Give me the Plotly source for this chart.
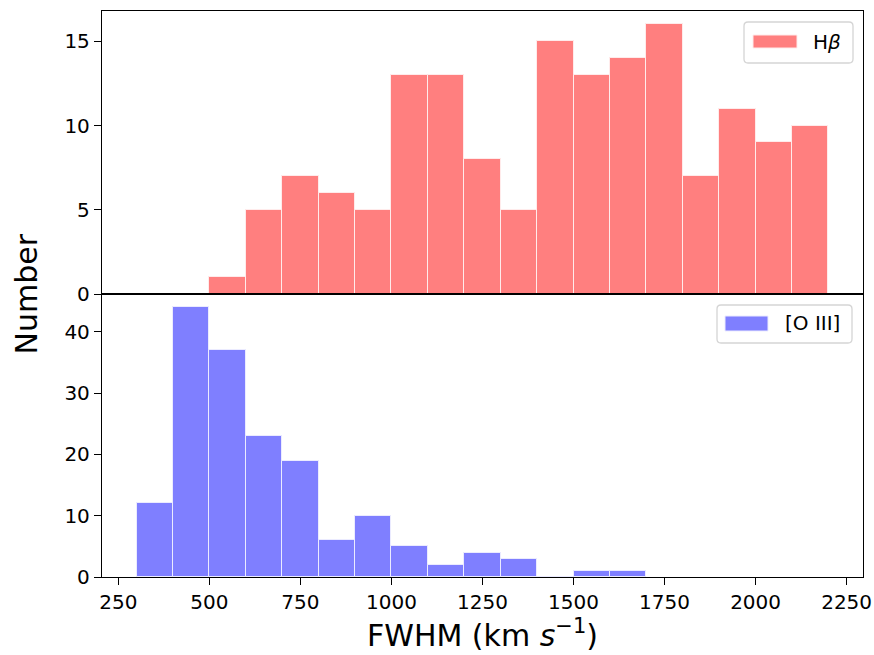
import plotly.graph_objects as go
from plotly.subplots import make_subplots

# Hβ histogram: bin left edges (km/s) and counts
hb_bin_left = [500, 600, 700, 800, 900, 1000, 1100, 1200, 1300, 1400, 1500, 1600, 1700, 1800, 1900, 2000, 2100]
hb_counts = [1, 5, 7, 6, 5, 13, 13, 8, 5, 15, 13, 14, 16, 7, 11, 9, 10]

# [O III] histogram
o3_bin_left = [300, 400, 500, 600, 700, 800, 900, 1000, 1100, 1200, 1300, 1400, 1500, 1600]
o3_counts = [12, 44, 37, 23, 19, 6, 10, 5, 2, 4, 3, 0, 1, 1]

bin_width = 100

x_ticks = [250, 500, 750, 1000, 1250, 1500, 1750, 2000, 2250]
hb_yticks = [0, 5, 10, 15]
o3_yticks = [0, 10, 20, 30, 40]

RED = "rgba(255,0,0,0.5)"
BLUE = "rgba(0,0,255,0.5)"

fig = make_subplots(rows=2, cols=1, shared_xaxes=True, vertical_spacing=0)

fig.add_trace(go.Bar(
    x=[b + bin_width / 2 for b in hb_bin_left], y=hb_counts, width=bin_width,
    name="Hβ", showlegend=False,
    marker=dict(color=RED, line=dict(color="rgba(255,235,235,1)", width=1))), row=1, col=1)

fig.add_trace(go.Bar(
    x=[b + bin_width / 2 for b in o3_bin_left], y=o3_counts, width=bin_width,
    name="[O III]", showlegend=False,
    marker=dict(color=BLUE, line=dict(color="rgba(235,235,255,1)", width=1))), row=2, col=1)

FAM = "DejaVu Sans"
font = dict(family=FAM, size=20, color="black")
axis_common = dict(showline=True, linecolor="black", linewidth=1.3, mirror=True,
                   ticks="outside", ticklen=7, tickwidth=1.3, tickcolor="black",
                   showgrid=False, zeroline=False, tickfont=font, automargin=False)

fig.update_xaxes(range=[205, 2295], tickvals=x_ticks, **axis_common)
fig.update_xaxes(showticklabels=False, ticks="", row=1, col=1)
fig.update_xaxes(title=dict(text="FWHM (km <i>s</i><sup>−1</sup>)",
                            font=dict(family=FAM, size=30, color="black"), standoff=6), row=2, col=1)

fig.update_yaxes(range=[0, 16.8], tickvals=hb_yticks, row=1, col=1, **axis_common)
fig.update_yaxes(range=[0, 46.2], tickvals=o3_yticks, row=2, col=1, **axis_common)

# plot area in pixels: x 102..863, y 11..577
L, R, T, B = 102, 863, 11, 577
def px(xp):
    return (xp - L) / (R - L)
def py(yp):
    return (B - yp) / (B - T)

def rounded_box(x0, y0, x1, y1, r=4):
    rx = r / (R - L)
    ry = r / (B - T)
    X0, X1, Y0, Y1 = px(x0), px(x1), py(y1), py(y0)
    return (f"M {X0+rx},{Y0} L {X1-rx},{Y0} Q {X1},{Y0} {X1},{Y0+ry} "
            f"L {X1},{Y1-ry} Q {X1},{Y1} {X1-rx},{Y1} L {X0+rx},{Y1} "
            f"Q {X0},{Y1} {X0},{Y1-ry} L {X0},{Y0+ry} Q {X0},{Y0} {X0+rx},{Y0} Z")

legend_items = [
    # box (x0,y0,x1,y1), patch (x0,y0,x1,y1), text x, text y, label, color, edge
    ((744, 22, 853, 63), (753, 35, 797, 48), 811, 41.5, "H<i>β</i>", RED, "rgba(255,235,235,1)"),
    ((717, 305, 852, 343), (725, 316, 768, 331), 783, 323.5, "[O III]", BLUE, "rgba(235,235,255,1)"),
]

shapes = []
annotations = []
for box, patch, tx, ty, label, col, edge in legend_items:
    shapes.append(dict(type="path", xref="paper", yref="paper", path=rounded_box(*box),
                       line=dict(color="#d5d5d5", width=1.3), fillcolor="rgba(255,255,255,0.8)"))
    shapes.append(dict(type="rect", xref="paper", yref="paper",
                       x0=px(patch[0]), x1=px(patch[2]), y0=py(patch[3]), y1=py(patch[1]),
                       line=dict(color=edge, width=1), fillcolor=col))
    annotations.append(dict(text=label, x=px(tx), y=py(ty), xref="paper", yref="paper",
                            xanchor="left", yanchor="middle", showarrow=False, font=font))

annotations.append(dict(text="Number", x=px(25.5), xref="paper", y=py(294), yref="paper",
                        xanchor="center", yanchor="middle", showarrow=False,
                        textangle=-90, font=dict(family=FAM, size=30, color="black")))

fig.update_layout(
    width=874, height=655,
    margin=dict(l=L, r=874 - R, t=T, b=655 - B, autoexpand=False),
    plot_bgcolor="white", paper_bgcolor="white",
    font=font, bargap=0, showlegend=False,
    shapes=shapes, annotations=annotations,
)

fig.write_html("out.html")
